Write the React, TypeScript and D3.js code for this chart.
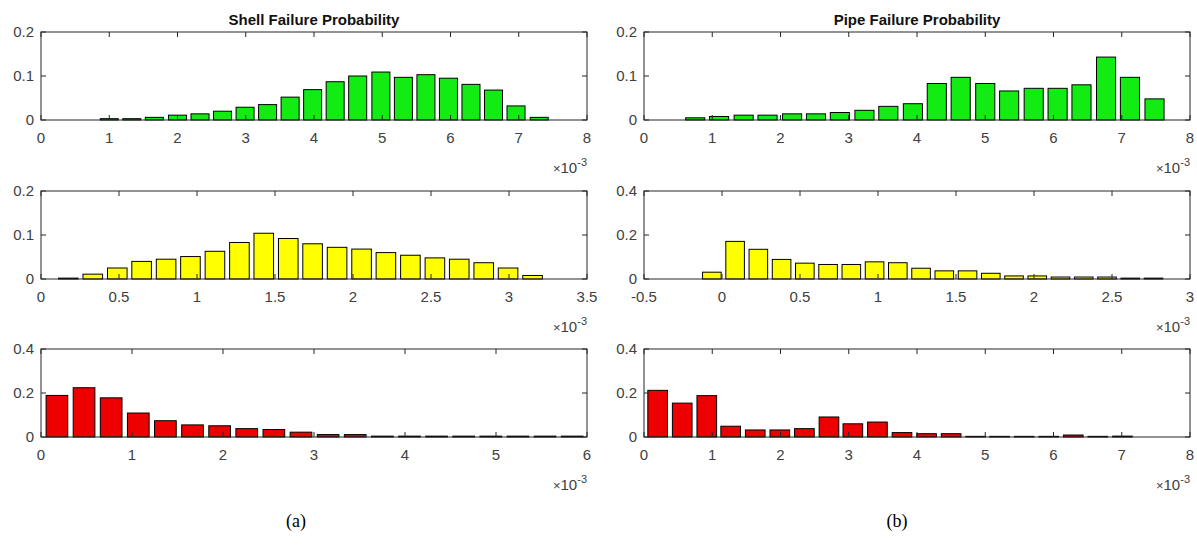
import React from "react";
import * as d3 from "d3";

// ---------- data (x in units of 1e-3) ----------
const shellGreenX = [1.0, 1.33, 1.66, 2.0, 2.33, 2.66, 2.99, 3.32, 3.65, 3.98, 4.31, 4.64, 4.98, 5.31, 5.64, 5.97, 6.3, 6.63, 6.96, 7.3];
const shellGreenY = [0.003, 0.003, 0.006, 0.011, 0.014, 0.02, 0.029, 0.035, 0.052, 0.069, 0.087, 0.1, 0.109, 0.097, 0.103, 0.095, 0.081, 0.068, 0.032, 0.006];

const pipeGreenX = [0.75, 1.1, 1.46, 1.81, 2.17, 2.52, 2.87, 3.23, 3.58, 3.94, 4.29, 4.64, 5.0, 5.35, 5.71, 6.06, 6.41, 6.77, 7.12, 7.48];
const pipeGreenY = [0.005, 0.008, 0.011, 0.011, 0.014, 0.014, 0.017, 0.022, 0.031, 0.037, 0.083, 0.097, 0.083, 0.066, 0.072, 0.072, 0.08, 0.143, 0.097, 0.048];

const shellYellowX = [0.175, 0.332, 0.489, 0.645, 0.802, 0.958, 1.115, 1.272, 1.428, 1.585, 1.741, 1.898, 2.055, 2.211, 2.368, 2.525, 2.681, 2.838, 2.994, 3.151];
const shellYellowY = [0.002, 0.011, 0.025, 0.04, 0.045, 0.051, 0.063, 0.083, 0.104, 0.092, 0.08, 0.072, 0.068, 0.06, 0.054, 0.048, 0.045, 0.037, 0.025, 0.008];

const pipeYellowX = [-0.065, 0.084, 0.233, 0.382, 0.531, 0.68, 0.829, 0.978, 1.127, 1.276, 1.425, 1.574, 1.723, 1.872, 2.021, 2.17, 2.319, 2.468, 2.617, 2.766];
const pipeYellowY = [0.031, 0.171, 0.135, 0.089, 0.072, 0.066, 0.066, 0.078, 0.074, 0.049, 0.037, 0.037, 0.026, 0.014, 0.014, 0.009, 0.009, 0.009, 0.004, 0.004];

const shellRedX = [0.175, 0.473, 0.771, 1.069, 1.367, 1.665, 1.963, 2.261, 2.559, 2.857, 3.155, 3.453, 3.751, 4.049, 4.347, 4.645, 4.943, 5.241, 5.539, 5.837];
const shellRedY = [0.189, 0.224, 0.178, 0.109, 0.074, 0.055, 0.051, 0.038, 0.034, 0.022, 0.011, 0.011, 0.004, 0.004, 0.004, 0.004, 0.004, 0.004, 0.004, 0.004];

const pipeRedX = [0.2, 0.56, 0.92, 1.27, 1.63, 1.99, 2.35, 2.71, 3.06, 3.42, 3.78, 4.14, 4.5, 4.86, 5.21, 5.57, 5.93, 6.29, 6.65, 7.01];
const pipeRedY = [0.212, 0.154, 0.188, 0.049, 0.032, 0.032, 0.038, 0.091, 0.06, 0.068, 0.02, 0.015, 0.015, 0.003, 0.003, 0.003, 0.003, 0.009, 0.003, 0.004];

const xTicks8 = [0, 1, 2, 3, 4, 5, 6, 7, 8];
const xTicksShellYellow = [0, 0.5, 1, 1.5, 2, 2.5, 3, 3.5];
const xTicksPipeYellow = [-0.5, 0, 0.5, 1, 1.5, 2, 2.5, 3];
const xTicks6 = [0, 1, 2, 3, 4, 5, 6];
const yTicks02 = [0, 0.1, 0.2];
const yTicks04 = [0, 0.2, 0.4];

const titles = ["Shell Failure Probability", "Pipe Failure Probability"];
const captions = ["(a)", "(b)"];

// ---------- layout ----------
const W = 1197;
const H = 551;
const colLeft = [41, 644];
const axW = 546;
const rowTop = [32, 191, 349];
const axH = 88;

type PanelDef = {
  col: number;
  row: number;
  xs: number[];
  ys: number[];
  xTicks: number[];
  yTicks: number[];
  color: string;
};

const panels: PanelDef[] = [
  { col: 0, row: 0, xs: shellGreenX, ys: shellGreenY, xTicks: xTicks8, yTicks: yTicks02, color: "#12ec12" },
  { col: 1, row: 0, xs: pipeGreenX, ys: pipeGreenY, xTicks: xTicks8, yTicks: yTicks02, color: "#12ec12" },
  { col: 0, row: 1, xs: shellYellowX, ys: shellYellowY, xTicks: xTicksShellYellow, yTicks: yTicks02, color: "#ffff00" },
  { col: 1, row: 1, xs: pipeYellowX, ys: pipeYellowY, xTicks: xTicksPipeYellow, yTicks: yTicks04, color: "#ffff00" },
  { col: 0, row: 2, xs: shellRedX, ys: shellRedY, xTicks: xTicks6, yTicks: yTicks04, color: "#ee0000" },
  { col: 1, row: 2, xs: pipeRedX, ys: pipeRedY, xTicks: xTicks8, yTicks: yTicks04, color: "#ee0000" },
];

const FONT = "'Liberation Sans', Arial, Helvetica, sans-serif";
const TXT = "#404040";
const AX = "#262626";
const TL = 5;

function Panel({ p }: { p: PanelDef }) {
  const x0 = colLeft[p.col];
  const y0 = rowTop[p.row];
  const xDom = d3.extent(p.xTicks) as [number, number];
  const yDom = d3.extent(p.yTicks) as [number, number];
  const x = d3.scaleLinear().domain(xDom).range([x0, x0 + axW]);
  const y = d3.scaleLinear().domain(yDom).range([y0 + axH, y0]);
  const step = p.xs[1] - p.xs[0];
  const bw = step * 0.8;
  const fmt = (v: number) => String(+v.toFixed(2));
  return (
    <g>
      {p.xs.map((c, i) => {
        const xl = x(c - bw / 2);
        const xr = x(c + bw / 2);
        const yt = y(p.ys[i]);
        return (
          <rect
            key={i}
            x={xl}
            y={yt}
            width={xr - xl}
            height={Math.max(0, y(0) - yt)}
            fill={p.color}
            stroke="#000"
            strokeWidth={1}
          />
        );
      })}
      <rect x={x0} y={y0} width={axW} height={axH} fill="none" stroke={AX} strokeWidth={1} />
      {p.xTicks.map((t, i) => (
        <g key={"xt" + i}>
          <line x1={x(t)} x2={x(t)} y1={y0 + axH} y2={y0 + axH - TL} stroke={AX} />
          <line x1={x(t)} x2={x(t)} y1={y0} y2={y0 + TL} stroke={AX} />
          <text x={x(t)} y={y0 + axH + 23} textAnchor="middle" fontFamily={FONT} fontSize={15} fill={TXT}>
            {fmt(t)}
          </text>
        </g>
      ))}
      {p.yTicks.map((t, i) => (
        <g key={"yt" + i}>
          <line x1={x0} x2={x0 + TL} y1={y(t)} y2={y(t)} stroke={AX} />
          <line x1={x0 + axW} x2={x0 + axW - TL} y1={y(t)} y2={y(t)} stroke={AX} />
          <text x={x0 - 7} y={y(t) + 5} textAnchor="end" fontFamily={FONT} fontSize={15} fill={TXT}>
            {fmt(t)}
          </text>
        </g>
      ))}
      <text x={x0 + axW} y={y0 + axH + 53} textAnchor="end" fontFamily={FONT} fontSize={15} fill={TXT}>
        <tspan fontSize={13}>{"\u00d7"}</tspan>
        <tspan>10</tspan>
        <tspan fontSize={11} dy={-7}>-3</tspan>
      </text>
    </g>
  );
}

export default function App() {
  return (
    <svg
      width={W}
      height={H}
      viewBox={`0 0 ${W} ${H}`}
      style={{ position: "absolute", left: 0, top: 0, background: "#fff", display: "block" }}
    >
      <rect x={0} y={0} width={W} height={H} fill="#fff" />
      {panels.map((p, i) => (
        <Panel key={i} p={p} />
      ))}
      {titles.map((t, i) => (
        <text
          key={t}
          x={colLeft[i] + axW / 2}
          y={rowTop[0] - 7}
          textAnchor="middle"
          fontFamily={FONT}
          fontWeight="bold"
          fontSize={15}
          fill="#111"
        >
          {t}
        </text>
      ))}
      {captions.map((c, i) => (
        <text
          key={c}
          x={i === 0 ? 296 : 897}
          y={527}
          textAnchor="middle"
          fontFamily="'Liberation Serif', 'Times New Roman', serif"
          fontSize={18}
          fill="#000"
        >
          {c}
        </text>
      ))}
    </svg>
  );
}
